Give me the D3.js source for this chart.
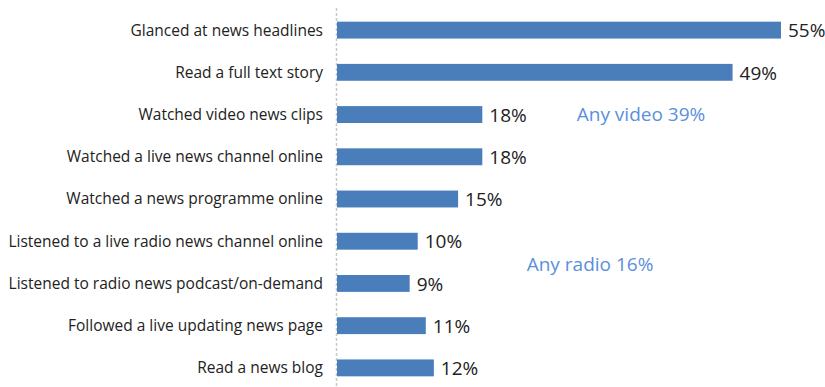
<!DOCTYPE html>
<html><head><meta charset="utf-8">
<script src="https://cdn.jsdelivr.net/npm/d3@7"></script>
<style>body{margin:0;background:#fff}</style>
</head><body><svg id="c" width="825" height="387"></svg>
<script>
const categories = ["Glanced at news headlines","Read a full text story","Watched video news clips","Watched a live news channel online","Watched a news programme online","Listened to a live radio news channel online","Listened to radio news podcast/on-demand","Followed a live updating news page","Read a news blog"];
const values = [55,49,18,18,15,10,9,11,12];
const annotationTexts = ["Any video 39%", "Any radio 16%"];

const annX = [29.7, 23.5];
const annRow = [2, 5.55];

const svg = d3.select("#c");
const x = d3.scaleLinear().domain([0,55]).range([337,781]);
const y = d3.scaleBand().domain(categories).range([9,389]).paddingInner(0.6).paddingOuter(0.3);
const font = "'Open Sans', sans-serif";

svg.append("line").attr("x1",336.5).attr("x2",336.5).attr("y1",8).attr("y2",387)
  .attr("stroke","#c8c8c8").attr("stroke-dasharray","3,2").attr("stroke-width",1.5);

svg.selectAll("rect.bar").data(values).join("rect").attr("class","bar")
  .attr("x",x(0)).attr("y",(d,i)=>y(categories[i])).attr("width",d=>x(d)-x(0)).attr("height",y.bandwidth())
  .attr("fill","#4a7ebb");

svg.selectAll("text.cat").data(categories).join("text").attr("class","cat")
  .attr("x",323).attr("y",d=>y(d)+y.bandwidth()/2).attr("dy","0.35em").attr("text-anchor","end")
  .attr("font-family",font).attr("font-size",15.5).attr("fill","#222").text(d=>d);

svg.selectAll("text.val").data(values).join("text").attr("class","val")
  .attr("x",d=>x(d)+7).attr("y",(d,i)=>y(categories[i])+y.bandwidth()/2).attr("dy","0.38em")
  .attr("font-family",font).attr("font-size",19).attr("fill","#222").text(d=>d+"%");

const yc = r => y(categories[0]) + y.bandwidth()/2 + r*y.step();
svg.selectAll("text.ann").data(annotationTexts).join("text").attr("class","ann")
  .attr("x",(d,i)=>x(annX[i])).attr("y",(d,i)=>yc(annRow[i])).attr("dy","0.35em")
  .attr("font-family",font).attr("font-size",19).attr("fill","#5a8fdc").text(d=>d);
</script></body></html>
